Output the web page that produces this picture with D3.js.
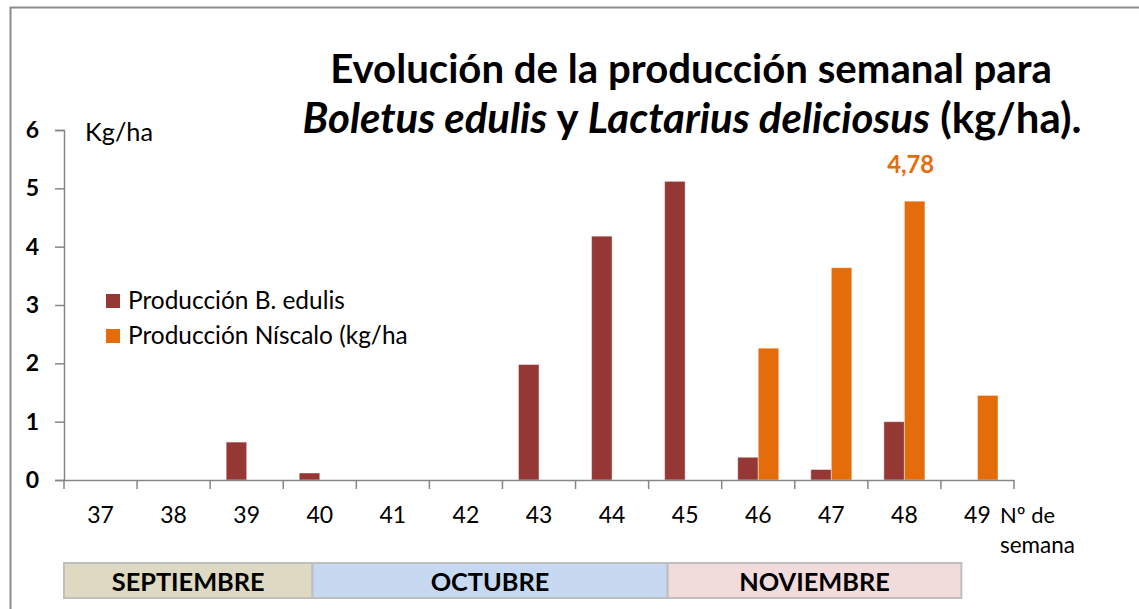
<!DOCTYPE html>
<html>
<head>
<meta charset="utf-8">
<script src="https://cdn.jsdelivr.net/npm/d3@7"></script>
<style>
  body { margin: 0; background: #fff; }
  text { font-family: Lato, "Open Sans", sans-serif; }
</style>
</head>
<body>
<div id="container"></div>
<script>
// datos
const weeks = ["37", "38", "39", "40", "41", "42", "43", "44", "45", "46", "47", "48", "49"];
const series = ["Producción B. edulis", "Producción Níscalo (kg/ha"];
const bEdulis = [0, 0, 0.65, 0.12, 0, 0, 1.98, 4.18, 5.12, 0.39, 0.18, 1.0, 0];
const niscalo = [0, 0, 0, 0, 0, 0, 0, 0, 0, 2.26, 3.64, 4.78, 1.45];
const yTicks = [0, 1, 2, 3, 4, 5, 6];
const months = ["SEPTIEMBRE", "OCTUBRE", "NOVIEMBRE"];
const monthEdges = [36.5, 39.9, 44.76, 48.78]; // en unidades de semana
const monthColors = ["#ddd9c3", "#c6d9f1", "#f2dcdb"];
const colors = ["#953735", "#e46c0a"];

const width = 1139, height = 609;
const svg = d3.select("#container").append("svg")
  .attr("width", width).attr("height", height);

// marco
svg.append("rect")
  .attr("x", 10.5).attr("y", 7.5).attr("width", 1140).attr("height", 620)
  .attr("fill", "none").attr("stroke", "#8c8c8c").attr("stroke-width", 2);

// escalas
const x = d3.scaleBand().domain(weeks).range([64, 1014]).paddingInner(0).paddingOuter(0);
const xSub = d3.scaleBand().domain([0, 1]).range([0, x.bandwidth()]).paddingInner(0).paddingOuter(0.78);
const y = d3.scaleLinear().domain([0, 6]).range([480, 130]);
const wk = d3.scaleLinear().domain([36.5, 49.5]).range([64, 1014]);

const fit = (sel, w) => {
  const cur = sel.node().getComputedTextLength();
  sel.attr("font-size", parseFloat(sel.attr("font-size")) * w / cur);
};

// barras
const rows = weeks.map((w, i) => ({ week: w, vals: [bEdulis[i], niscalo[i]] }));
svg.append("g").selectAll("g").data(rows).join("g")
  .attr("transform", d => `translate(${x(d.week)},0)`)
  .selectAll("rect")
  .data(d => d.vals.map((v, s) => ({ v, s })).filter(e => e.v > 0))
  .join("rect")
  .attr("x", d => xSub(d.s))
  .attr("width", xSub.bandwidth())
  .attr("y", d => y(d.v))
  .attr("height", d => y(0) - y(d.v))
  .attr("fill", d => colors[d.s])
  .attr("stroke", "#fff").attr("stroke-opacity", 0.45).attr("stroke-width", 1);

// eje Y
const yAxis = svg.append("g").attr("transform", "translate(64,0)")
  .call(d3.axisLeft(y).tickValues(yTicks).tickSize(9).tickPadding(16).tickFormat(d3.format("d")));
yAxis.select(".domain").attr("stroke", "#868686").attr("stroke-width", 1.5);
yAxis.selectAll(".tick line").attr("stroke", "#868686").attr("stroke-width", 1.5);
yAxis.selectAll(".tick text").attr("font-size", 23).attr("font-weight", "bold")
  .attr("fill", "#000").attr("font-family", "Lato");

// eje X
const xAxis = svg.append("g").attr("transform", "translate(0,480)")
  .call(d3.axisBottom(x).tickSize(0).tickPadding(27));
xAxis.select(".domain").attr("stroke", "#868686").attr("stroke-width", 1.5);
xAxis.selectAll(".tick text").attr("font-size", 23).attr("fill", "#000").attr("font-family", "Lato");
svg.append("g").selectAll("line")
  .data(d3.range(weeks.length + 1))
  .join("line")
  .attr("x1", i => wk(36.5 + i)).attr("x2", i => wk(36.5 + i))
  .attr("y1", 480).attr("y2", 489)
  .attr("stroke", "#868686").attr("stroke-width", 1.5);

// titulos de ejes
svg.append("text").attr("x", 85).attr("y", 141).attr("font-size", 22).text("Kg/ha")
  .call(s => fit(s, 68));
svg.append("text").attr("x", 1000).attr("y", 523).attr("font-size", 21).text("Nº de")
  .call(s => fit(s, 55));
svg.append("text").attr("x", 1000).attr("y", 553).attr("font-size", 21).text("semana")
  .call(s => fit(s, 75));

// etiqueta de valor
svg.append("text")
  .attr("x", xSub(1) + x("48") + xSub.bandwidth() / 2 - 4)
  .attr("y", y(niscalo[11]) - 28)
  .attr("text-anchor", "middle").attr("font-size", 21).attr("font-weight", "bold")
  .attr("fill", colors[1]).text(d3.format(".2f")(niscalo[11]).replace(".", ","))
  .call(s => fit(s, 47));

// titulo
const t1 = svg.append("text").attr("x", 691).attr("y", 83).attr("text-anchor", "middle")
  .attr("font-size", 36).attr("font-weight", "bold").text("Evolución de la producción semanal para");
fit(t1, 722);
const t2 = svg.append("text").attr("x", 692).attr("y", 133).attr("text-anchor", "middle")
  .attr("font-size", 36).attr("font-weight", "bold");
[["Boletus edulis", true], [" y ", false], ["Lactarius deliciosus", true], [" (kg/ha).", false]]
  .forEach(([s, it]) => t2.append("tspan").attr("font-style", it ? "italic" : "normal").text(s));
fit(t2, 779);

// leyenda
const leg = svg.append("g").selectAll("g").data(series).join("g")
  .attr("transform", (d, i) => `translate(106,${301 + i * 35})`);
leg.append("rect").attr("x", 0).attr("y", -7).attr("width", 14).attr("height", 14)
  .attr("fill", (d, i) => colors[i]);
leg.append("text").attr("x", 22).attr("y", 8).attr("font-size", 21).text(d => d);
fit(leg.filter((d, i) => i === 0).select("text"), 217);
leg.filter((d, i) => i === 1).select("text")
  .attr("font-size", leg.filter((d, i) => i === 0).select("text").attr("font-size"));

// meses
const mg = svg.append("g").selectAll("g").data(months).join("g");
mg.append("rect")
  .attr("x", (d, i) => wk(monthEdges[i]))
  .attr("width", (d, i) => wk(monthEdges[i + 1]) - wk(monthEdges[i]))
  .attr("y", 563).attr("height", 35)
  .attr("fill", (d, i) => monthColors[i])
  .attr("stroke", "#bfbfbf").attr("stroke-width", 2);
mg.append("text")
  .attr("x", (d, i) => (wk(monthEdges[i]) + wk(monthEdges[i + 1])) / 2)
  .attr("y", 591).attr("text-anchor", "middle")
  .attr("font-size", 23).attr("font-weight", "bold").text(d => d);
mg.filter((d, i) => i === 0).select("text").call(s => fit(s, 153));
mg.selectAll("text").attr("font-size", mg.filter((d, i) => i === 0).select("text").attr("font-size"));
</script>
</body>
</html>
